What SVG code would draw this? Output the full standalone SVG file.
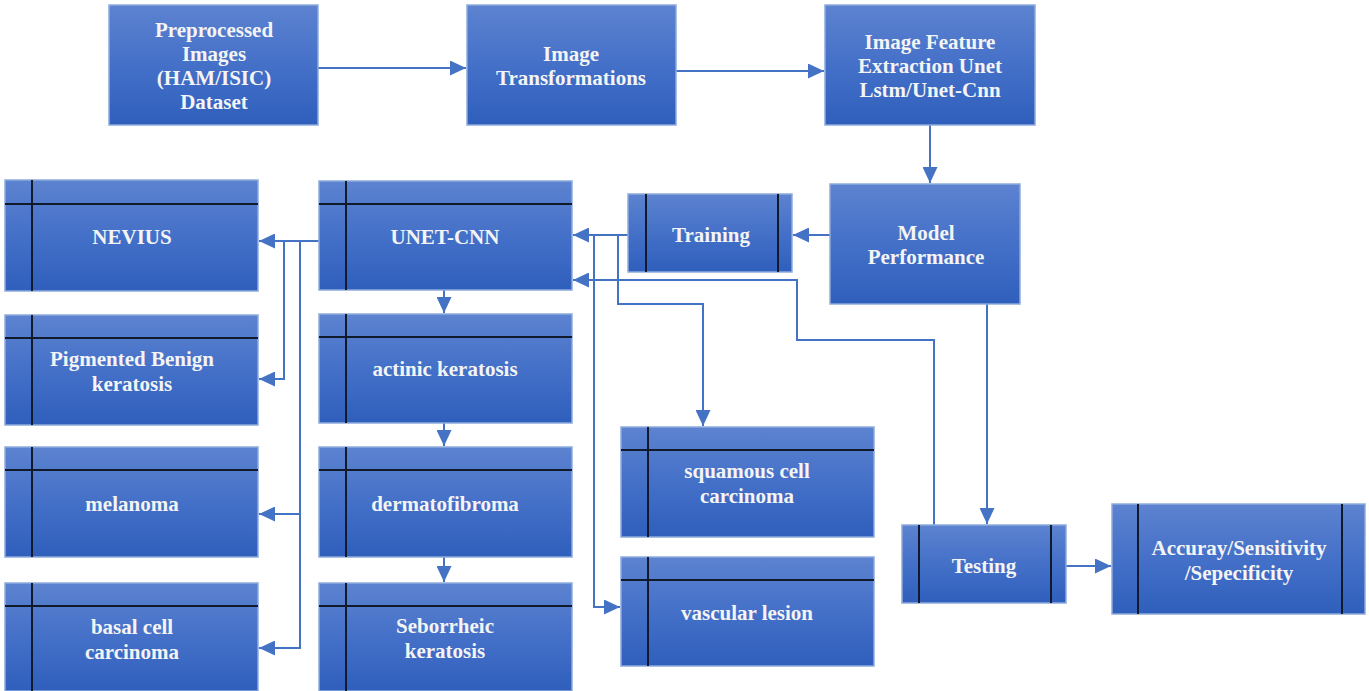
<svg xmlns="http://www.w3.org/2000/svg" width="1369" height="691" viewBox="0 0 1369 691">
<defs>
<linearGradient id="g" x1="0" y1="0" x2="0" y2="1">
<stop offset="0" stop-color="#5d83d0"/>
<stop offset="0.5" stop-color="#4470c8"/>
<stop offset="1" stop-color="#2f5fbc"/>
</linearGradient>
<marker id="a" markerUnits="userSpaceOnUse" markerWidth="17" markerHeight="15" refX="16" refY="7.5" orient="auto">
<path d="M0,0 L16,7.5 L0,15 Z" fill="#4472c4"/>
</marker>
<style>
.b{fill:url(#g);stroke:#8eaadc;stroke-width:1.5}
.d{stroke:#111a2a;stroke-width:2;fill:none}
.t{font-family:"Liberation Serif","Times New Roman",serif;font-weight:bold;font-size:21px;fill:#f4f4f4;text-anchor:middle}
.c{stroke:#4472c4;stroke-width:2;fill:none}
</style>
</defs>
<rect width="1369" height="691" fill="#ffffff"/>

<g id="connectors">
<path class="c" d="M318,68 L466,68" marker-end="url(#a)"/>
<path class="c" d="M676,71 L824,71" marker-end="url(#a)"/>
<path class="c" d="M930,125 L930,183" marker-end="url(#a)"/>
<path class="c" d="M830,235 L793,235" marker-end="url(#a)"/>
<path class="c" d="M987,304 L987,524" marker-end="url(#a)"/>
<path class="c" d="M1066,566 L1111,566" marker-end="url(#a)"/>
<path class="c" d="M628,235 L573,235" marker-end="url(#a)"/>
<path class="c" d="M594,235 L594,607 L620,607" marker-end="url(#a)"/>
<path class="c" d="M618,235 L618,304 L703,304 L703,426" marker-end="url(#a)"/>
<path class="c" d="M934,525 L934,340 L797,340 L797,280 L573,280" marker-end="url(#a)"/>
<path class="c" d="M319,241 L259,241" marker-end="url(#a)"/>
<path class="c" d="M284,241 L284,379 L259,379" marker-end="url(#a)"/>
<path class="c" d="M300,241 L300,648 L259,648" marker-end="url(#a)"/>
<path class="c" d="M300,514 L259,514" marker-end="url(#a)"/>
<path class="c" d="M444,290 L444,313" marker-end="url(#a)"/>
<path class="c" d="M444,423 L444,446" marker-end="url(#a)"/>
<path class="c" d="M444,557 L444,582" marker-end="url(#a)"/>
</g>

<g id="preprocessed">
<rect class="b" x="109" y="5" width="209" height="120"/>
<text class="t" x="214" y="37">Preprocessed</text>
<text class="t" x="214" y="61">Images</text>
<text class="t" x="214" y="85">(HAM/ISIC)</text>
<text class="t" x="214" y="109">Dataset</text>
</g>
<g id="transformations">
<rect class="b" x="467" y="5" width="209" height="120"/>
<text class="t" x="571" y="61">Image</text>
<text class="t" x="571" y="85">Transformations</text>
</g>
<g id="feature">
<rect class="b" x="825" y="5" width="210" height="120"/>
<text class="t" x="930" y="49">Image Feature</text>
<text class="t" x="930" y="73">Extraction Unet</text>
<text class="t" x="930" y="97">Lstm/Unet-Cnn</text>
</g>
<g id="model">
<rect class="b" x="830" y="184" width="190" height="120"/>
<text class="t" x="926" y="240">Model</text>
<text class="t" x="926" y="264">Performance</text>
</g>
<g id="training">
<rect class="b" x="628" y="194" width="164" height="78"/>
<line class="d" x1="646" y1="194" x2="646" y2="272"/>
<line class="d" x1="778" y1="194" x2="778" y2="272"/>
<text class="t" x="711" y="242">Training</text>
</g>
<g id="testing">
<rect class="b" x="902" y="525" width="164" height="78"/>
<line class="d" x1="919" y1="525" x2="919" y2="603"/>
<line class="d" x1="1051" y1="525" x2="1051" y2="603"/>
<text class="t" x="984" y="573">Testing</text>
</g>
<g id="accuracy">
<rect class="b" x="1112" y="504" width="253" height="110"/>
<line class="d" x1="1138" y1="504" x2="1138" y2="614"/>
<line class="d" x1="1342" y1="504" x2="1342" y2="614"/>
<text class="t" x="1239" y="555">Accuray/Sensitivity</text>
<text class="t" x="1239" y="580">/Sepecificity</text>
</g>

<g id="unetcnn">
<rect class="b" x="319" y="181" width="253" height="109"/>
<line class="d" x1="346" y1="181" x2="346" y2="290"/>
<line class="d" x1="319" y1="204" x2="572" y2="204"/>
<text class="t" x="445" y="244">UNET-CNN</text>
</g>
<g id="actinic">
<rect class="b" x="319" y="314" width="253" height="109"/>
<line class="d" x1="346" y1="314" x2="346" y2="423"/>
<line class="d" x1="319" y1="337" x2="572" y2="337"/>
<text class="t" x="445" y="376">actinic keratosis</text>
</g>
<g id="dermatofibroma">
<rect class="b" x="319" y="447" width="253" height="110"/>
<line class="d" x1="346" y1="447" x2="346" y2="557"/>
<line class="d" x1="319" y1="470" x2="572" y2="470"/>
<text class="t" x="445" y="511">dermatofibroma</text>
</g>
<g id="seborrheic">
<rect class="b" x="319" y="583" width="253" height="108"/>
<line class="d" x1="346" y1="583" x2="346" y2="691"/>
<line class="d" x1="319" y1="606" x2="572" y2="606"/>
<text class="t" x="445" y="633">Seborrheic</text>
<text class="t" x="445" y="658">keratosis</text>
</g>

<g id="nevius">
<rect class="b" x="5" y="180" width="253" height="111"/>
<line class="d" x1="32" y1="180" x2="32" y2="291"/>
<line class="d" x1="5" y1="204" x2="258" y2="204"/>
<text class="t" x="132" y="244">NEVIUS</text>
</g>
<g id="pigmented">
<rect class="b" x="5" y="315" width="253" height="110"/>
<line class="d" x1="32" y1="315" x2="32" y2="425"/>
<line class="d" x1="5" y1="338" x2="258" y2="338"/>
<text class="t" x="132" y="366">Pigmented Benign</text>
<text class="t" x="132" y="391">keratosis</text>
</g>
<g id="melanoma">
<rect class="b" x="5" y="447" width="253" height="110"/>
<line class="d" x1="32" y1="447" x2="32" y2="557"/>
<line class="d" x1="5" y1="470" x2="258" y2="470"/>
<text class="t" x="132" y="511">melanoma</text>
</g>
<g id="basal">
<rect class="b" x="5" y="583" width="253" height="108"/>
<line class="d" x1="32" y1="583" x2="32" y2="691"/>
<line class="d" x1="5" y1="606" x2="258" y2="606"/>
<text class="t" x="132" y="634">basal cell</text>
<text class="t" x="132" y="659">carcinoma</text>
</g>

<g id="squamous">
<rect class="b" x="621" y="427" width="253" height="110"/>
<line class="d" x1="648" y1="427" x2="648" y2="537"/>
<line class="d" x1="621" y1="450" x2="874" y2="450"/>
<text class="t" x="747" y="478">squamous cell</text>
<text class="t" x="747" y="503">carcinoma</text>
</g>
<g id="vascular">
<rect class="b" x="621" y="557" width="253" height="109"/>
<line class="d" x1="648" y1="557" x2="648" y2="666"/>
<line class="d" x1="621" y1="580" x2="874" y2="580"/>
<text class="t" x="747" y="620">vascular lesion</text>
</g>
</svg>
